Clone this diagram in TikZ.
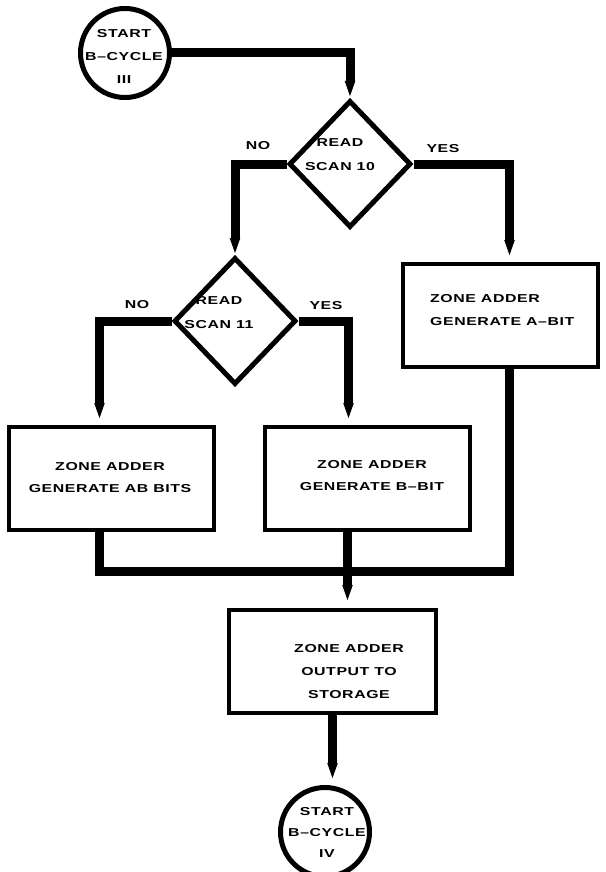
\documentclass[tikz,border=0pt]{standalone}
\usepackage{fontspec}
\setmainfont{Liberation Sans}[FakeStretch=1.38,LetterSpace=5]
\usetikzlibrary{shapes.geometric,arrows.meta,calc}

\begin{document}
\begin{tikzpicture}[x=1pt,y=-1pt,
    every node/.style={font=\fontsize{11.5}{23}\selectfont\bfseries,inner sep=0pt},
    term/.style={circle,draw,line width=5pt,minimum size=89pt},
    decide/.style={diamond,draw,line width=5pt,minimum width=122pt,minimum height=127pt},
    proc/.style={rectangle,draw,line width=4pt,minimum height=103pt},
    flow/.style={line width=9pt,-{Triangle[width=9pt,length=17pt]}},
    merge/.style={line width=9pt},
    txt/.style={align=center}]
  \useasboundingbox (0,0) rectangle (605,872);
  % shapes, pixel coordinates of the sheet (y runs down)
  \node[term] (start3) at (125,53) {};
  \node[decide] (read10) at (350,164) {};
  \node[decide] (read11) at (235,321) {};
  \node[proc,minimum width=195pt] (abit) at (500.5,315.5) {};
  \node[proc,minimum width=205pt] (abbits) at (111.5,478.5) {};
  \node[proc,minimum width=205pt] (bbit) at (367.5,478.5) {};
  \node[proc,minimum width=207pt] (store) at (332.5,661.5) {};
  \node[term] (start4) at (325,832) {};
  % texts
  \node[txt] (start3txt) at (124,56) {START\\B–CYCLE\\III};
  \node[txt,font=\fontsize{11.5}{24}\selectfont\bfseries] (read10txt) at (340,155) {READ\\SCAN 10};
  \node[txt,font=\fontsize{11.5}{24}\selectfont\bfseries] (read11txt) at (219,313) {READ\\SCAN 11};
  \node[align=left,anchor=west] (abittxt) at (430,310) {ZONE ADDER\\GENERATE A–BIT};
  \node[txt,font=\fontsize{11.5}{22}\selectfont\bfseries] (abbitstxt) at (110,478) {ZONE ADDER\\GENERATE AB BITS};
  \node[txt,font=\fontsize{11.5}{22}\selectfont\bfseries] (bbittxt) at (372,476) {ZONE ADDER\\GENERATE B–BIT};
  \node[txt] (storetxt) at (349,672) {ZONE ADDER\\OUTPUT TO\\STORAGE};
  \node[txt,font=\fontsize{11.5}{21}\selectfont\bfseries] (start4txt) at (327,832) {START\\B–CYCLE\\IV};
  % branch labels
  \node (no10) at (258,146) {NO};
  \node (yes10) at (443,149) {YES};
  \node (no11) at (137,305) {NO};
  \node (yes11) at (326,306) {YES};
  % connectors
  \draw[flow] (start3.east) -| (read10.north);
  \draw[flow] (read10.west) -| (read11.north);
  \draw[flow,shorten >=5pt] (read10.east) -| ([xshift=9pt]abit.north);
  \draw[flow,shorten >=5pt] (read11.west) -| ([xshift=-12pt]abbits.north);
  \draw[flow,shorten >=5pt] (read11.east) -| ([xshift=-19pt]bbit.north);
  \coordinate (mid) at (347.5,571);
  \draw[merge] ([xshift=-12pt]abbits.south) |- (mid);
  \draw[merge] ([xshift=9pt]abit.south) |- (mid);
  \draw[flow,shorten >=6pt] ([xshift=-20pt]bbit.south) -- ([xshift=-20pt]bbit.south |- store.north);
  \draw[flow,shorten >=5pt] (store.south) -- (store.south |- start4.north);
\end{tikzpicture}
\end{document}
